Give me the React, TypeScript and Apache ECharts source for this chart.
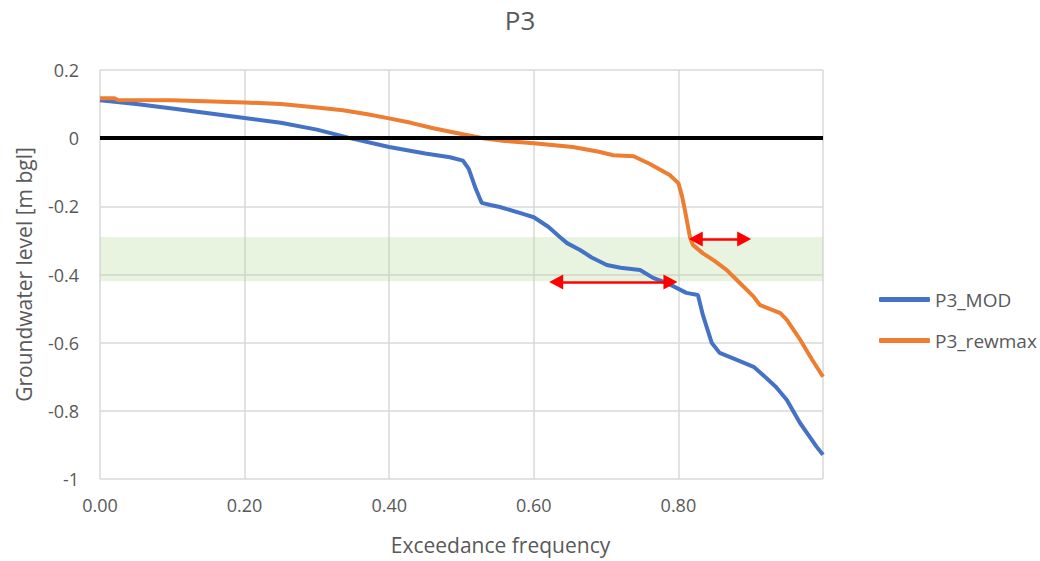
import React, { useEffect, useRef } from "react";
import * as echarts from "echarts";

const titleText = "P3";
const xAxisTitle = "Exceedance frequency";
const yAxisTitle = "Groundwater level [m bgl]";
const seriesNames = ["P3_MOD", "P3_rewmax"];

const modX = [0, 0.05, 0.1, 0.15, 0.2, 0.25, 0.3, 0.346, 0.4, 0.45, 0.484, 0.502, 0.51, 0.52, 0.528, 0.54, 0.553, 0.585, 0.6, 0.62, 0.636, 0.646, 0.664, 0.68, 0.701, 0.72, 0.747, 0.765, 0.784, 0.811, 0.827, 0.834, 0.846, 0.857, 0.88, 0.904, 0.917, 0.935, 0.95, 0.968, 0.991, 1.0];
const modY = [0.111, 0.1, 0.087, 0.073, 0.059, 0.045, 0.025, 0, -0.026, -0.045, -0.056, -0.066, -0.09, -0.15, -0.19, -0.196, -0.202, -0.222, -0.232, -0.26, -0.29, -0.308, -0.328, -0.35, -0.372, -0.38, -0.387, -0.41, -0.425, -0.454, -0.46, -0.52, -0.6, -0.63, -0.65, -0.671, -0.695, -0.73, -0.768, -0.835, -0.905, -0.929];

const rewX = [0, 0.02, 0.025, 0.1, 0.2, 0.25, 0.3, 0.336, 0.37, 0.4, 0.43, 0.461, 0.5, 0.53, 0.56, 0.6, 0.654, 0.69, 0.71, 0.738, 0.76, 0.788, 0.8, 0.805, 0.809, 0.816, 0.82, 0.834, 0.85, 0.867, 0.885, 0.904, 0.913, 0.941, 0.95, 0.968, 0.985, 1.0];
const rewY = [0.117, 0.117, 0.112, 0.111, 0.105, 0.1, 0.09, 0.082, 0.07, 0.058, 0.045, 0.029, 0.012, 0, -0.008, -0.015, -0.026, -0.04, -0.05, -0.053, -0.075, -0.108, -0.132, -0.17, -0.211, -0.29, -0.313, -0.338, -0.36, -0.387, -0.425, -0.465, -0.49, -0.513, -0.533, -0.59, -0.65, -0.7];

const bandRange = [-0.29, -0.42];
const arrowUpper = { from: 0.824, to: 0.891, y: -0.296 };
const arrowLower = { from: 0.631, to: 0.789, y: -0.422 };

const FONT = "'Open Sans', sans-serif";
const GRAY = "#595959";

export default function App() {
  const ref = useRef<HTMLDivElement>(null);
  useEffect(() => {
    if (!ref.current) return;
    const chart = echarts.init(ref.current, undefined, { renderer: "svg" });
    const modData = modX.map((x, i) => [x, modY[i]]);
    const rewData = rewX.map((x, i) => [x, rewY[i]]);
    const arrowStyle = { color: "#FF0000", width: 2.5, type: "solid" };
    chart.setOption({
      animation: false,
      backgroundColor: "#ffffff",
      textStyle: { fontFamily: FONT },
      title: {
        text: titleText,
        left: "center",
        top: 2,
        textStyle: { fontFamily: FONT, fontSize: 26, fontWeight: "normal", color: GRAY },
      },
      grid: { left: 100, right: 217, top: 70, bottom: 82, containLabel: false },
      legend: {
        data: seriesNames,
        orient: "vertical",
        left: 874,
        top: 285,
        itemGap: 22,
        itemWidth: 51,
        itemHeight: 5,
        icon: "roundRect",
        textStyle: { fontFamily: FONT, fontSize: 19, color: GRAY },
      },
      xAxis: {
        type: "value",
        min: 0,
        max: 1,
        interval: 0.2,
        name: xAxisTitle,
        nameLocation: "middle",
        nameGap: 55,
        nameTextStyle: { fontFamily: FONT, fontSize: 21, color: GRAY, padding: [0, 0, 0, 78] },
        axisLine: { show: false },
        axisTick: { show: false },
        axisLabel: {
          margin: 17,
          fontSize: 18,
          color: GRAY,
          fontFamily: FONT,
          formatter: (v: number) => (v >= 0.999 ? "" : v.toFixed(2)),
        },
        splitLine: { show: true, lineStyle: { color: "#D9D9D9", width: 1.5 } },
      },
      yAxis: {
        type: "value",
        min: -1,
        max: 0.2,
        interval: 0.2,
        name: yAxisTitle,
        nameLocation: "middle",
        nameGap: 66,
        nameTextStyle: { fontFamily: FONT, fontSize: 21, color: GRAY },
        axisLine: { show: false },
        axisTick: { show: false },
        axisLabel: {
          margin: 21,
          fontSize: 18,
          color: GRAY,
          fontFamily: FONT,
          formatter: (v: number) => String(Number(v.toFixed(1))),
        },
        splitLine: { show: true, lineStyle: { color: "#D9D9D9", width: 1.5 } },
      },
      series: [
        {
          name: seriesNames[0],
          type: "line",
          data: modData,
          symbol: "none",
          showSymbol: false,
          lineStyle: { color: "#4472C4", width: 4 },
          itemStyle: { color: "#4472C4" },
          z: 2,
        },
        {
          name: seriesNames[1],
          type: "line",
          data: rewData,
          symbol: "none",
          showSymbol: false,
          lineStyle: { color: "#ED7D31", width: 4 },
          itemStyle: { color: "#ED7D31" },
          z: 3,
        },
        {
          name: "zeroLine",
          type: "line",
          data: [],
          symbol: "none",
          z: 9,
          markLine: {
            silent: true,
            symbol: ["none", "none"],
            label: { show: false },
            emphasis: { disabled: true },
            lineStyle: { color: "#000000", width: 4, type: "solid" },
            data: [{ yAxis: 0 }],
          },
        },
        {
          name: "annotations",
          type: "line",
          data: [],
          symbol: "none",
          z: 10,
          markArea: {
            silent: true,
            itemStyle: { color: "rgba(169,209,142,0.27)" },
            data: [[{ yAxis: bandRange[0] }, { yAxis: bandRange[1] }]],
          },
          markLine: {
            silent: true,
            symbol: ["triangle", "triangle"],
            symbolSize: [15, 14],
            label: { show: false },
            emphasis: { disabled: true },
            lineStyle: arrowStyle,
            itemStyle: { color: "#FF0000" },
            data: [
              [{ coord: [arrowUpper.from, arrowUpper.y] }, { coord: [arrowUpper.to, arrowUpper.y] }],
              [{ coord: [arrowLower.from, arrowLower.y] }, { coord: [arrowLower.to, arrowLower.y] }],
            ],
          },
        },
      ],
    });
    return () => chart.dispose();
  }, []);
  return (
    <div
      ref={ref}
      style={{ position: "fixed", left: 0, top: 0, width: 1040, height: 561, background: "#fff" }}
    />
  );
}
